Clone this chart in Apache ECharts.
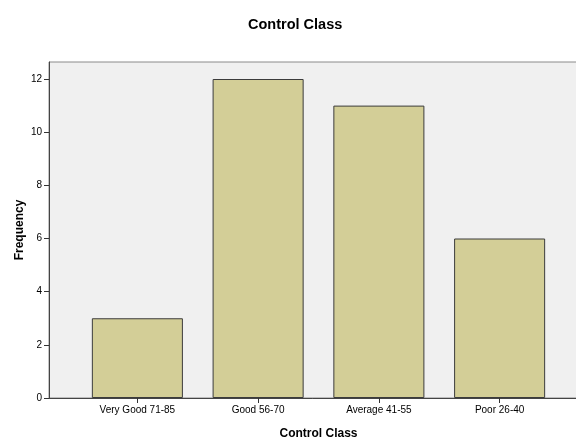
<!DOCTYPE html>
<html lang="en">

<head>
    <meta charset="UTF-8" />
    <title>Control Class</title>
    <script src="https://cdn.jsdelivr.net/npm/echarts@6/dist/echarts.min.js"></script>
    <style>
        body { margin: 0; background: #fff; }
        #main { width: 576px; height: 439px; }
    </style>
</head>

<body>
    <div id="main"></div>

    <script type="text/javascript">
        // chart data
        const categories = ["Very Good 71-85", "Good 56-70", "Average 41-55", "Poor 26-40"];
        const frequency = [3, 12, 11, 6];
        const yTicks = [0, 2, 4, 6, 8, 10, 12];

        const yMax = 12.64;
        const font = "'Liberation Sans', Arial, sans-serif";

        let myChart = echarts.init(document.getElementById("main"));

        let options = {
            animation: false,
            title: {
                text: "Control Class",
                left: 243,
                top: 12,
                textStyle: { fontFamily: font, fontSize: 14.5, fontWeight: "bold", color: "#000" }
            },
            grid: [
                // background box with the y axis
                { left: 49, top: 62, width: 540, bottom: 41, outerBoundsMode: "none", show: true, backgroundColor: "#f0f0f0", borderColor: "#8a8a8a", borderWidth: 1 },
                // bars
                { left: 77, top: 62, width: 483, bottom: 41, outerBoundsMode: "none" }
            ],
            xAxis: [
                {
                    gridIndex: 0, type: "value", min: 0, max: 1,
                    axisLine: { show: true, lineStyle: { color: "#444", width: 1 } },
                    axisTick: { show: false }, axisLabel: { show: false }, splitLine: { show: false }
                },
                {
                    gridIndex: 1, type: "category", data: categories,
                    axisLine: { show: false },
                    axisTick: { show: true, alignWithLabel: true, length: 5, lineStyle: { color: "#333" } },
                    axisLabel: { fontFamily: font, fontSize: 10, color: "#000", margin: 7 },
                    name: "Control Class", nameLocation: "middle", nameGap: 30,
                    nameTextStyle: { fontFamily: font, fontSize: 12, fontWeight: "bold", color: "#000" }
                }
            ],
            yAxis: [
                {
                    gridIndex: 0, type: "value", min: 0, max: yMax, interval: 2,
                    axisLine: { show: true, lineStyle: { color: "#444", width: 1 } },
                    axisTick: { show: true, length: 5, lineStyle: { color: "#333" } },
                    axisLabel: {
                        fontFamily: font, fontSize: 10, color: "#000", margin: 7,
                        showMaxLabel: false,
                        formatter: (v) => (yTicks.includes(v) ? String(v) : "")
                    },
                    splitLine: { show: false },
                    name: "Frequency", nameLocation: "middle", nameGap: 23, nameRotate: 90,
                    nameMoveOverlap: false,
                    nameTextStyle: { fontFamily: font, fontSize: 12, fontWeight: "bold", color: "#000" }
                },
                { gridIndex: 1, type: "value", min: 0, max: yMax, show: false }
            ],
            series: [
                {
                    name: "Frequency",
                    type: "bar",
                    xAxisIndex: 1,
                    yAxisIndex: 1,
                    data: frequency,
                    barCategoryGap: "24.6%",
                    itemStyle: { color: "#d3ce97", borderColor: "#3c3c3c", borderWidth: 1 }
                }
            ]
        };

        myChart.setOption(options);
    </script>
</body>

</html>
